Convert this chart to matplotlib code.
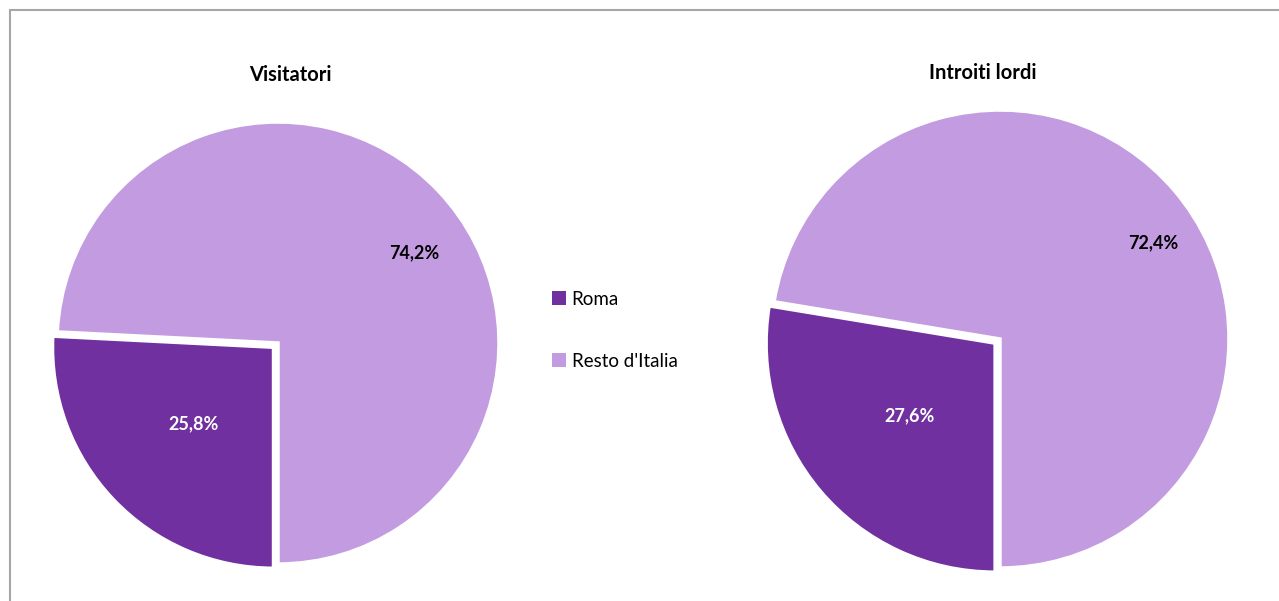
import numpy as np
import matplotlib.pyplot as plt
from matplotlib.patches import Patch, Rectangle

plt.rcParams['font.family'] = ['Lato', 'DejaVu Sans']

# data
categories = ['Roma', "Resto d'Italia"]
visitatori = [25.8, 74.2]
introiti = [27.6, 72.4]
titles = ['Visitatori', 'Introiti lordi']

colors = ['#7030A0', '#C39BE0']
W, H = 1279, 601

fig = plt.figure(figsize=(W / 100, H / 100), dpi=100)

# chart border
fig.add_artist(Rectangle((10 / W, -0.1), 1.2, (H - 10) / H + 0.1, transform=fig.transFigure,
                         fill=False, edgecolor='#A6A6A6', linewidth=1.5))


def make_pie(vals, cx, cy, r, title, title_xy, label_dist):
    pad = 1.25
    ax = fig.add_axes([(cx - r * pad) / W, (H - cy - r * pad) / H, 2 * r * pad / W, 2 * r * pad / H])
    ax.axis('off')
    wedges, _ = ax.pie(vals, colors=colors, startangle=-90, counterclock=False,
                       explode=[0.028, 0], radius=1,
                       wedgeprops=dict(edgecolor='white', linewidth=2.5),
                       frame=False)
    ax.set_xlim(-pad, pad)
    ax.set_ylim(-pad, pad)
    for w, v, (ang_off, dist), col in zip(wedges, vals, label_dist, ['white', 'black']):
        mid = np.deg2rad((w.theta1 + w.theta2) / 2 + ang_off)
        cxw, cyw = w.center
        ax.text(cxw + dist * np.cos(mid), cyw + dist * np.sin(mid),
                f'{v:.1f}%'.replace('.', ','), ha='center', va='center',
                fontsize=13, fontweight='bold', color=col)
    fig.text(title_xy[0] / W, 1 - title_xy[1] / H, title, ha='center', va='center',
             fontsize=14.5, fontweight='bold')


make_pie(visitatori, 278, 343, 221, titles[0], (290, 75), [(0, 0.5), (-10, 0.74)])
make_pie(introiti, 1000, 339, 229, titles[1], (983, 73), [(0, 0.49), (-8, 0.79)])

handles = [Patch(facecolor=c, edgecolor='none') for c in colors]
fig.legend(handles, categories, loc='upper left', bbox_to_anchor=(535 / W, 1 - 274 / H),
           frameon=False, fontsize=13.5, handlelength=0.75, handleheight=0.75,
           handletextpad=0.3, labelspacing=2.4)

fig.savefig('out.png', dpi=100)
